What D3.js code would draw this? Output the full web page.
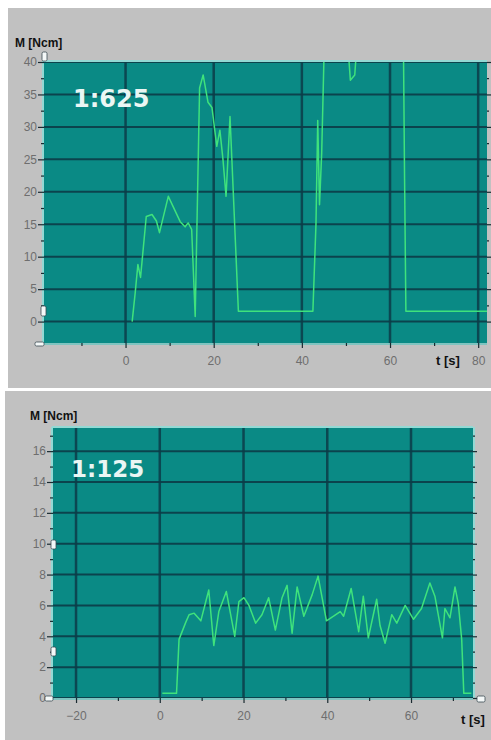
<!DOCTYPE html>
<html>
<head>
<meta charset="utf-8">
<script src="https://cdn.jsdelivr.net/npm/d3@7/dist/d3.min.js"></script>
<style>
  html, body { margin: 0; padding: 0; background: #ffffff; }
  svg { display: block; }
</style>
</head>
<body>
<svg id="chart" width="491" height="740"></svg>
<script>
// ---------- DATA ----------
// Top chart (ratio 1:625): time [s] and torque M [Ncm]
const topTime   = [1.5, 2.2, 2.8, 3.4, 4.7, 6.0, 7.0, 7.7, 9.7, 12.4, 13.5, 14.2, 15.0, 15.8, 16.8, 17.6, 18.7, 19.6, 20.7, 21.4, 22.1, 22.8, 23.7, 25.6, 42.5, 43.2, 43.6, 44.0, 44.5, 45.2, 50.3, 51.0, 52.0, 52.6, 63.0, 63.3, 63.6, 82.0];
const topTorque = [0, 4.5, 8.8, 6.8, 16.2, 16.5, 15.5, 13.7, 19.3, 15.4, 14.6, 15.2, 14.2, 0.8, 36, 38, 33.8, 33, 27, 29.5, 25, 19.3, 31.6, 1.6, 1.6, 15, 31, 18, 26, 46, 44, 37.2, 38, 44, 46, 22, 1.6, 1.6];
const topXTicks = [0, 20, 40, 60, 80];
const topXMinor = [-10, 10, 30, 50, 70];
const topYTicks = [0, 5, 10, 15, 20, 25, 30, 35, 40];
const topLabel = "1:625";

// Bottom chart (ratio 1:125)
const botTime   = [0.6, 4.0, 4.6, 6.2, 7.0, 8.2, 9.8, 11.7, 12.9, 14.1, 15.9, 17.9, 18.9, 20.1, 21.3, 22.9, 24.4, 26.0, 27.6, 29.2, 30.4, 31.6, 32.8, 34.4, 36.4, 37.8, 39.8, 41.5, 43.1, 43.9, 45.7, 47.5, 48.6, 49.8, 51.8, 52.6, 53.8, 55.4, 56.6, 58.6, 60.6, 62.5, 64.5, 65.7, 67.5, 68.1, 69.3, 70.5, 71.3, 72.1, 72.6, 74.4];
const botTorque = [0.3, 0.3, 3.8, 4.9, 5.4, 5.5, 5.0, 7.0, 3.4, 5.6, 6.9, 4.0, 6.25, 6.5, 6.0, 4.85, 5.4, 6.5, 4.4, 6.5, 7.3, 4.2, 7.2, 5.3, 6.7, 7.9, 5.0, 5.3, 5.6, 5.3, 7.1, 4.3, 6.6, 3.9, 6.4, 4.7, 3.55, 5.4, 4.85, 6.0, 5.1, 5.8, 7.45, 6.6, 3.9, 5.8, 5.2, 7.2, 6.1, 3.8, 0.3, 0.3];
const botXTicks = [-20, 0, 20, 40, 60];
const botXMinor = [-10, 10, 30, 50, 70];
const botYTicks = [0, 2, 4, 6, 8, 10, 12, 14, 16];
const botLabel = "1:125";

const yTitle = "M [Ncm]";
const xTitle = "t [s]";

// ---------- DRAWING ----------
const svg = d3.select("#chart");
const defs = svg.append("defs");

// panel backgrounds
svg.append("rect").attr("x", 0).attr("y", 0).attr("width", 491).attr("height", 740).attr("fill", "#ffffff");
svg.append("rect").attr("x", 8).attr("y", 8).attr("width", 483).attr("height", 380).attr("fill", "#c1c1c1");
svg.append("rect").attr("x", 5).attr("y", 391).attr("width", 486).attr("height", 349).attr("fill", "#c1c1c1");

function drawChart(cfg) {
  const x = d3.scaleLinear().domain(cfg.xDomain).range([cfg.left, cfg.right]);
  const y = d3.scaleLinear().domain(cfg.yDomain).range([cfg.bottom, cfg.top]);
  const g = svg.append("g");
  const w = cfg.right - cfg.left, h = cfg.bottom - cfg.top;

  // plot area
  g.append("rect").attr("x", cfg.left).attr("y", cfg.top).attr("width", w).attr("height", h)
    .attr("fill", "#0a8a85");
  // soft lighter bands
  g.append("rect").attr("x", cfg.left).attr("y", cfg.top).attr("width", w).attr("height", h)
    .attr("fill", "none");

  // grid
  g.selectAll(null).data(cfg.yTicks).enter().append("line")
    .attr("x1", cfg.left).attr("x2", cfg.right)
    .attr("y1", d => y(d)).attr("y2", d => y(d))
    .attr("stroke", "#0c3c48").attr("stroke-width", 2).attr("opacity", 0.9);
  g.selectAll(null).data(cfg.xTicks.filter(d => x(d) > cfg.left + 2 && x(d) < cfg.right - 2)).enter().append("line")
    .attr("x1", d => x(d)).attr("x2", d => x(d))
    .attr("y1", cfg.top).attr("y2", cfg.bottom)
    .attr("stroke", "#0c3c48").attr("stroke-width", 2.5).attr("opacity", 0.85);

  // light edges
  g.append("line").attr("x1", cfg.left - 1).attr("x2", cfg.right).attr("y1", cfg.top - 1).attr("y2", cfg.top - 1)
    .attr("stroke", "#93d9d4").attr("stroke-width", 2);
  g.append("line").attr("x1", cfg.left - 1).attr("x2", cfg.left - 1).attr("y1", cfg.top - 1).attr("y2", cfg.bottom)
    .attr("stroke", "#93d9d4").attr("stroke-width", 2);
  if (cfg.rightEdge) {
    g.append("line").attr("x1", cfg.right + 1).attr("x2", cfg.right + 1).attr("y1", cfg.top - 1).attr("y2", cfg.bottom)
      .attr("stroke", "#93d9d4").attr("stroke-width", 2);
  }
  g.append("line").attr("x1", cfg.left - 1).attr("x2", cfg.right).attr("y1", cfg.bottom + 1).attr("y2", cfg.bottom + 1)
    .attr("stroke", "#7fc4c0").attr("stroke-width", 2);

  // axes (ticks + labels)
  const yAxis = d3.axisLeft(y).tickValues(cfg.yTicks).tickSize(6).tickPadding(1).tickFormat(d3.format("d"));
  const ya = g.append("g").attr("transform", `translate(${cfg.left},0)`).call(yAxis);
  const yMinorAxis = d3.axisLeft(y).tickValues(cfg.yMinor).tickSize(3).tickFormat("");
  g.append("g").attr("transform", `translate(${cfg.left},0)`).call(yMinorAxis);
  const yRight = d3.axisRight(y).tickValues(cfg.yTicks).tickSize(4).tickFormat("");
  g.append("g").attr("transform", `translate(${cfg.right},0)`).call(yRight);
  const yRightMinor = d3.axisRight(y).tickValues(cfg.yMinor).tickSize(2).tickFormat("");
  g.append("g").attr("transform", `translate(${cfg.right},0)`).call(yRightMinor);

  const xAxis = d3.axisBottom(x).tickValues(cfg.xTicks).tickSize(5).tickPadding(8).tickFormat(d3.format("d"));
  g.append("g").attr("transform", `translate(0,${cfg.bottom})`).call(xAxis);
  const xMinorAxis = d3.axisBottom(x).tickValues(cfg.xMinor.filter(d => x(d) > cfg.left && x(d) < cfg.right)).tickSize(3).tickFormat("");
  g.append("g").attr("transform", `translate(0,${cfg.bottom})`).call(xMinorAxis);

  g.selectAll(".domain").remove();
  g.selectAll(".tick line").attr("stroke", "#1a2a30").attr("stroke-width", 1.2);
  g.selectAll(".tick text").attr("fill", "#6e6e6e")
    .style("font-family", "'Liberation Sans', Arial, sans-serif").style("font-size", "12px");

  // data line
  const clipId = "clip" + cfg.id;
  defs.append("clipPath").attr("id", clipId).append("rect")
    .attr("x", cfg.left).attr("y", cfg.top).attr("width", w).attr("height", h);
  const pts = cfg.t.map((t, i) => [t, cfg.m[i]]);
  g.append("path").datum(pts)
    .attr("clip-path", `url(#${clipId})`)
    .attr("fill", "none").attr("stroke", "#3fe27c").attr("stroke-width", 1.5)
    .attr("stroke-linejoin", "round")
    .attr("d", d3.line().x(d => x(d[0])).y(d => y(d[1])));

  // ratio label
  g.append("text").attr("x", cfg.labelX).attr("y", cfg.labelY).text(cfg.label)
    .attr("fill", "#eaf6f4").style("font-family", "'DejaVu Sans', sans-serif")
    .style("font-weight", "bold").style("font-size", cfg.labelSize + "px");

  // axis titles
  g.append("text").attr("x", cfg.yTitleX).attr("y", cfg.yTitleY).text(yTitle)
    .attr("fill", "#111").style("font-family", "'Liberation Sans', Arial, sans-serif")
    .style("font-weight", "bold").style("font-size", "12px");
  g.append("text").attr("x", cfg.xTitleX).attr("y", cfg.xTitleY).text(xTitle)
    .attr("fill", "#111").style("font-family", "'Liberation Sans', Arial, sans-serif")
    .style("font-weight", "bold").style("font-size", "13px").attr("text-anchor", "middle");

  // slider handles (UI decoration)
  cfg.handles.forEach(hd => {
    g.append("rect").attr("x", hd[0]).attr("y", hd[1]).attr("width", hd[2]).attr("height", hd[3])
      .attr("rx", 1.5).attr("fill", "#f4f8f8").attr("stroke", "#3a4a50").attr("stroke-width", 0.8);
  });
}

drawChart({
  id: "top", left: 44, right: 487, top: 62, bottom: 343,
  xDomain: [-18.5, 82], yDomain: [-3.3, 40],
  xTicks: topXTicks, xMinor: topXMinor, yTicks: topYTicks,
  yMinor: [2.5, 7.5, 12.5, 17.5, 22.5, 27.5, 32.5, 37.5],
  t: topTime, m: topTorque,
  label: topLabel, labelX: 73, labelY: 107, labelSize: 24,
  yTitleX: 15, yTitleY: 47, xTitleX: 448, xTitleY: 365,
  rightEdge: false,
  handles: [[42, 52, 5, 9], [41, 306, 5, 10], [35, 342, 9, 4]]
});

drawChart({
  id: "bot", left: 53, right: 473, top: 428, bottom: 698,
  xDomain: [-25.5, 74.8], yDomain: [0, 17.5],
  xTicks: botXTicks, xMinor: botXMinor, yTicks: botYTicks,
  yMinor: [1, 3, 5, 7, 9, 11, 13, 15, 17],
  t: botTime, m: botTorque,
  label: botLabel, labelX: 71, labelY: 477, labelSize: 23,
  yTitleX: 30, yTitleY: 420, xTitleX: 473, xTitleY: 724,
  rightEdge: true,
  handles: [[51, 540, 5, 9], [51, 647, 5, 9], [45, 696, 8, 5], [477, 696, 8, 6]]
});
</script>
</body>
</html>
